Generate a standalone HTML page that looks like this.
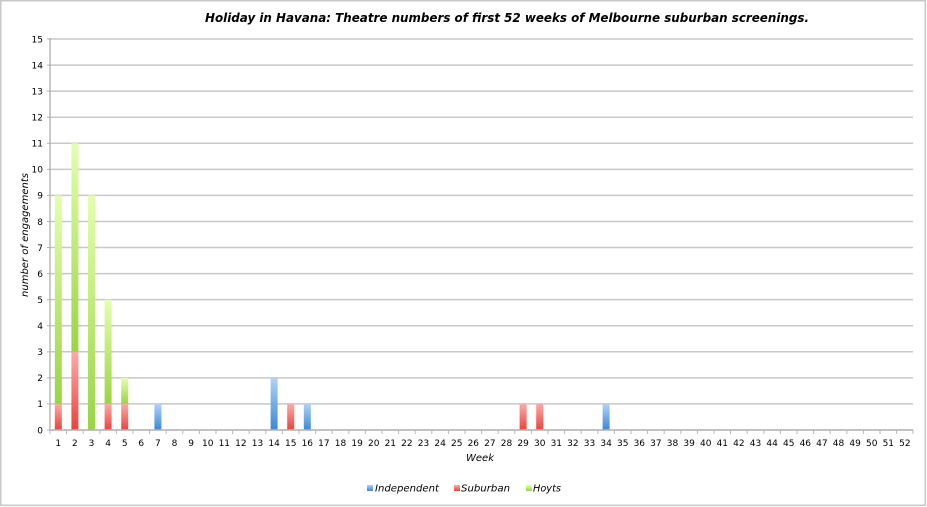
<!DOCTYPE html>
<html>
<head>
<meta charset="utf-8">
<style>
  html,body{margin:0;padding:0;background:#fff;}
  svg{display:block;}
</style>
</head>
<body>
<svg width="927" height="507" viewBox="0 0 927 507" xmlns="http://www.w3.org/2000/svg">
  <defs>
    <linearGradient id="gG" x1="0" y1="0" x2="0" y2="1">
      <stop offset="0" stop-color="#e4ffae"/>
      <stop offset="1" stop-color="#9bd444"/>
    </linearGradient>
    <linearGradient id="gR" x1="0" y1="0" x2="0" y2="1">
      <stop offset="0" stop-color="#ffaaa8"/>
      <stop offset="1" stop-color="#e8443c"/>
    </linearGradient>
    <linearGradient id="gB" x1="0" y1="0" x2="0" y2="1">
      <stop offset="0" stop-color="#b0d2fa"/>
      <stop offset="1" stop-color="#3a88d8"/>
    </linearGradient>
  </defs>

  <!-- outer frame -->
  <rect x="0.75" y="0.75" width="924.5" height="504.5" fill="#fff" stroke="#c8c8c8" stroke-width="1.5"/>

  <!-- title -->
  <text x="205" y="22" font-family="'DejaVu Sans','Liberation Sans',sans-serif" font-weight="bold" font-style="italic" font-size="12.5" textLength="604" lengthAdjust="spacingAndGlyphs" fill="#000">Holiday in Havana: Theatre numbers of first 52 weeks of Melbourne suburban screenings.</text>

  <!-- gridlines -->
  <g stroke="#c8c8c8" stroke-width="1.5">
    <line x1="50" x2="913" y1="39" y2="39"/>
    <line x1="50" x2="913" y1="65.07" y2="65.07"/>
    <line x1="50" x2="913" y1="91.13" y2="91.13"/>
    <line x1="50" x2="913" y1="117.2" y2="117.2"/>
    <line x1="50" x2="913" y1="143.27" y2="143.27"/>
    <line x1="50" x2="913" y1="169.33" y2="169.33"/>
    <line x1="50" x2="913" y1="195.4" y2="195.4"/>
    <line x1="50" x2="913" y1="221.47" y2="221.47"/>
    <line x1="50" x2="913" y1="247.53" y2="247.53"/>
    <line x1="50" x2="913" y1="273.6" y2="273.6"/>
    <line x1="50" x2="913" y1="299.67" y2="299.67"/>
    <line x1="50" x2="913" y1="325.73" y2="325.73"/>
    <line x1="50" x2="913" y1="351.8" y2="351.8"/>
    <line x1="50" x2="913" y1="377.87" y2="377.87"/>
    <line x1="50" x2="913" y1="403.93" y2="403.93"/>
    <line x1="50" x2="913" y1="430" y2="430"/>
  </g>
  <!-- y axis -->
  <line x1="50" x2="50" y1="38" y2="431" stroke="#a8a8a8" stroke-width="1.2"/>
  <!-- y ticks -->
  <g stroke="#b0b0b0" stroke-width="1">
    <line x1="47" x2="50" y1="39" y2="39"/><line x1="47" x2="50" y1="65.07" y2="65.07"/>
    <line x1="47" x2="50" y1="91.13" y2="91.13"/><line x1="47" x2="50" y1="117.2" y2="117.2"/>
    <line x1="47" x2="50" y1="143.27" y2="143.27"/><line x1="47" x2="50" y1="169.33" y2="169.33"/>
    <line x1="47" x2="50" y1="195.4" y2="195.4"/><line x1="47" x2="50" y1="221.47" y2="221.47"/>
    <line x1="47" x2="50" y1="247.53" y2="247.53"/><line x1="47" x2="50" y1="273.6" y2="273.6"/>
    <line x1="47" x2="50" y1="299.67" y2="299.67"/><line x1="47" x2="50" y1="325.73" y2="325.73"/>
    <line x1="47" x2="50" y1="351.8" y2="351.8"/><line x1="47" x2="50" y1="377.87" y2="377.87"/>
    <line x1="47" x2="50" y1="403.93" y2="403.93"/><line x1="47" x2="50" y1="430" y2="430"/>
  </g>

  <!-- y labels -->
  <g font-family="'DejaVu Sans','Liberation Sans',sans-serif" font-size="9" fill="#000" text-anchor="end">
    <text x="43" y="42.3">15</text>
    <text x="43" y="68.4">14</text>
    <text x="43" y="94.4">13</text>
    <text x="43" y="120.5">12</text>
    <text x="43" y="146.6">11</text>
    <text x="43" y="172.6">10</text>
    <text x="43" y="198.7">9</text>
    <text x="43" y="224.8">8</text>
    <text x="43" y="250.8">7</text>
    <text x="43" y="276.9">6</text>
    <text x="43" y="303">5</text>
    <text x="43" y="329">4</text>
    <text x="43" y="355.1">3</text>
    <text x="43" y="381.2">2</text>
    <text x="43" y="407.2">1</text>
    <text x="43" y="433.3">0</text>
  </g>

  <!-- y title -->
  <text transform="translate(28,297) rotate(-90)" font-family="'DejaVu Sans','Liberation Sans',sans-serif" font-style="italic" font-size="10" textLength="124" lengthAdjust="spacingAndGlyphs" fill="#000">number of engagements</text>

  <!-- bars (cx = 50 + (i-0.5)*16.6, width 7) -->
  <!-- week 1: sub 1, hoyts 8 -->
  <rect x="54.8" y="403.93" width="7" height="26.07" fill="url(#gR)"/>
  <rect x="54.8" y="195.4" width="7" height="208.53" fill="url(#gG)"/>
  <!-- week 2: sub 3, hoyts 8 -->
  <rect x="71.4" y="351.8" width="7" height="78.2" fill="url(#gR)"/>
  <rect x="71.4" y="143.27" width="7" height="208.53" fill="url(#gG)"/>
  <!-- week 3: hoyts 9 -->
  <rect x="88" y="195.4" width="7" height="234.6" fill="url(#gG)"/>
  <!-- week 4: sub 1, hoyts 4 -->
  <rect x="104.6" y="403.93" width="7" height="26.07" fill="url(#gR)"/>
  <rect x="104.6" y="299.67" width="7" height="104.27" fill="url(#gG)"/>
  <!-- week 5: sub 1, hoyts 1 -->
  <rect x="121.2" y="403.93" width="7" height="26.07" fill="url(#gR)"/>
  <rect x="121.2" y="377.87" width="7" height="26.07" fill="url(#gG)"/>
  <!-- week 7: ind 1 -->
  <rect x="154.4" y="403.93" width="7" height="26.07" fill="url(#gB)"/>
  <!-- week 14: ind 2 -->
  <rect x="270.6" y="377.87" width="7" height="52.13" fill="url(#gB)"/>
  <!-- week 15: sub 1 -->
  <rect x="287.2" y="403.93" width="7" height="26.07" fill="url(#gR)"/>
  <!-- week 16: ind 1 -->
  <rect x="303.8" y="403.93" width="7" height="26.07" fill="url(#gB)"/>
  <!-- week 29: sub 1 -->
  <rect x="519.6" y="403.93" width="7" height="26.07" fill="url(#gR)"/>
  <!-- week 30: sub 1 -->
  <rect x="536.2" y="403.93" width="7" height="26.07" fill="url(#gR)"/>
  <!-- week 34: ind 1 -->
  <rect x="602.6" y="403.93" width="7" height="26.07" fill="url(#gB)"/>

  <!-- x axis line -->
  <line x1="50" x2="913" y1="430" y2="430" stroke="#b8b8b8" stroke-width="1.5"/>

  <!-- x ticks and labels -->
  <g id="xt" stroke="#b8b8b8" stroke-width="1"></g>
  <g id="xl" font-family="'DejaVu Sans','Liberation Sans',sans-serif" font-size="9" fill="#000" text-anchor="middle">
    <text x="58.3" y="446">1</text><text x="74.9" y="446">2</text><text x="91.5" y="446">3</text><text x="108.1" y="446">4</text>
    <text x="124.7" y="446">5</text><text x="141.3" y="446">6</text><text x="157.9" y="446">7</text><text x="174.5" y="446">8</text>
    <text x="191.1" y="446">9</text><text x="207.7" y="446">10</text><text x="224.3" y="446">11</text><text x="240.9" y="446">12</text>
    <text x="257.5" y="446">13</text><text x="274.1" y="446">14</text><text x="290.7" y="446">15</text><text x="307.3" y="446">16</text>
    <text x="323.9" y="446">17</text><text x="340.5" y="446">18</text><text x="357.1" y="446">19</text><text x="373.7" y="446">20</text>
    <text x="390.3" y="446">21</text><text x="406.9" y="446">22</text><text x="423.5" y="446">23</text><text x="440.1" y="446">24</text>
    <text x="456.7" y="446">25</text><text x="473.3" y="446">26</text><text x="489.9" y="446">27</text><text x="506.5" y="446">28</text>
    <text x="523.1" y="446">29</text><text x="539.7" y="446">30</text><text x="556.3" y="446">31</text><text x="572.9" y="446">32</text>
    <text x="589.5" y="446">33</text><text x="606.1" y="446">34</text><text x="622.7" y="446">35</text><text x="639.3" y="446">36</text>
    <text x="655.9" y="446">37</text><text x="672.5" y="446">38</text><text x="689.1" y="446">39</text><text x="705.7" y="446">40</text>
    <text x="722.3" y="446">41</text><text x="738.9" y="446">42</text><text x="755.5" y="446">43</text><text x="772.1" y="446">44</text>
    <text x="788.7" y="446">45</text><text x="805.3" y="446">46</text><text x="821.9" y="446">47</text><text x="838.5" y="446">48</text>
    <text x="855.1" y="446">49</text><text x="871.7" y="446">50</text><text x="888.3" y="446">51</text><text x="904.9" y="446">52</text>
  </g>
  <g stroke="#b8b8b8" stroke-width="1">
    <line x1="50" x2="50" y1="430" y2="434"/><line x1="66.6" x2="66.6" y1="430" y2="434"/><line x1="83.2" x2="83.2" y1="430" y2="434"/>
    <line x1="99.8" x2="99.8" y1="430" y2="434"/><line x1="116.4" x2="116.4" y1="430" y2="434"/><line x1="133" x2="133" y1="430" y2="434"/>
    <line x1="149.6" x2="149.6" y1="430" y2="434"/><line x1="166.2" x2="166.2" y1="430" y2="434"/><line x1="182.8" x2="182.8" y1="430" y2="434"/>
    <line x1="199.4" x2="199.4" y1="430" y2="434"/><line x1="216" x2="216" y1="430" y2="434"/><line x1="232.6" x2="232.6" y1="430" y2="434"/>
    <line x1="249.2" x2="249.2" y1="430" y2="434"/><line x1="265.8" x2="265.8" y1="430" y2="434"/><line x1="282.4" x2="282.4" y1="430" y2="434"/>
    <line x1="299" x2="299" y1="430" y2="434"/><line x1="315.6" x2="315.6" y1="430" y2="434"/><line x1="332.2" x2="332.2" y1="430" y2="434"/>
    <line x1="348.8" x2="348.8" y1="430" y2="434"/><line x1="365.4" x2="365.4" y1="430" y2="434"/><line x1="382" x2="382" y1="430" y2="434"/>
    <line x1="398.6" x2="398.6" y1="430" y2="434"/><line x1="415.2" x2="415.2" y1="430" y2="434"/><line x1="431.8" x2="431.8" y1="430" y2="434"/>
    <line x1="448.4" x2="448.4" y1="430" y2="434"/><line x1="465" x2="465" y1="430" y2="434"/><line x1="481.6" x2="481.6" y1="430" y2="434"/>
    <line x1="498.2" x2="498.2" y1="430" y2="434"/><line x1="514.8" x2="514.8" y1="430" y2="434"/><line x1="531.4" x2="531.4" y1="430" y2="434"/>
    <line x1="548" x2="548" y1="430" y2="434"/><line x1="564.6" x2="564.6" y1="430" y2="434"/><line x1="581.2" x2="581.2" y1="430" y2="434"/>
    <line x1="597.8" x2="597.8" y1="430" y2="434"/><line x1="614.4" x2="614.4" y1="430" y2="434"/><line x1="631" x2="631" y1="430" y2="434"/>
    <line x1="647.6" x2="647.6" y1="430" y2="434"/><line x1="664.2" x2="664.2" y1="430" y2="434"/><line x1="680.8" x2="680.8" y1="430" y2="434"/>
    <line x1="697.4" x2="697.4" y1="430" y2="434"/><line x1="714" x2="714" y1="430" y2="434"/><line x1="730.6" x2="730.6" y1="430" y2="434"/>
    <line x1="747.2" x2="747.2" y1="430" y2="434"/><line x1="763.8" x2="763.8" y1="430" y2="434"/><line x1="780.4" x2="780.4" y1="430" y2="434"/>
    <line x1="797" x2="797" y1="430" y2="434"/><line x1="813.6" x2="813.6" y1="430" y2="434"/><line x1="830.2" x2="830.2" y1="430" y2="434"/>
    <line x1="846.8" x2="846.8" y1="430" y2="434"/><line x1="863.4" x2="863.4" y1="430" y2="434"/><line x1="880" x2="880" y1="430" y2="434"/>
    <line x1="896.6" x2="896.6" y1="430" y2="434"/><line x1="913" x2="913" y1="430" y2="434"/>
  </g>

  <!-- x title -->
  <text x="480" y="461" text-anchor="middle" font-family="'DejaVu Sans','Liberation Sans',sans-serif" font-style="italic" font-size="10" fill="#000">Week</text>

  <!-- legend -->
  <rect x="367" y="485" width="6" height="6" fill="url(#gB)"/>
  <text x="375" y="491.5" font-family="'DejaVu Sans','Liberation Sans',sans-serif" font-style="italic" font-size="10" textLength="64" lengthAdjust="spacingAndGlyphs" fill="#000">Independent</text>
  <rect x="454" y="485" width="6" height="6" fill="url(#gR)"/>
  <text x="461" y="491.5" font-family="'DejaVu Sans','Liberation Sans',sans-serif" font-style="italic" font-size="10" textLength="49" lengthAdjust="spacingAndGlyphs" fill="#000">Suburban</text>
  <rect x="526" y="485" width="6" height="6" fill="url(#gG)"/>
  <text x="533" y="491.5" font-family="'DejaVu Sans','Liberation Sans',sans-serif" font-style="italic" font-size="10" textLength="28" lengthAdjust="spacingAndGlyphs" fill="#000">Hoyts</text>
</svg>
</body>
</html>
